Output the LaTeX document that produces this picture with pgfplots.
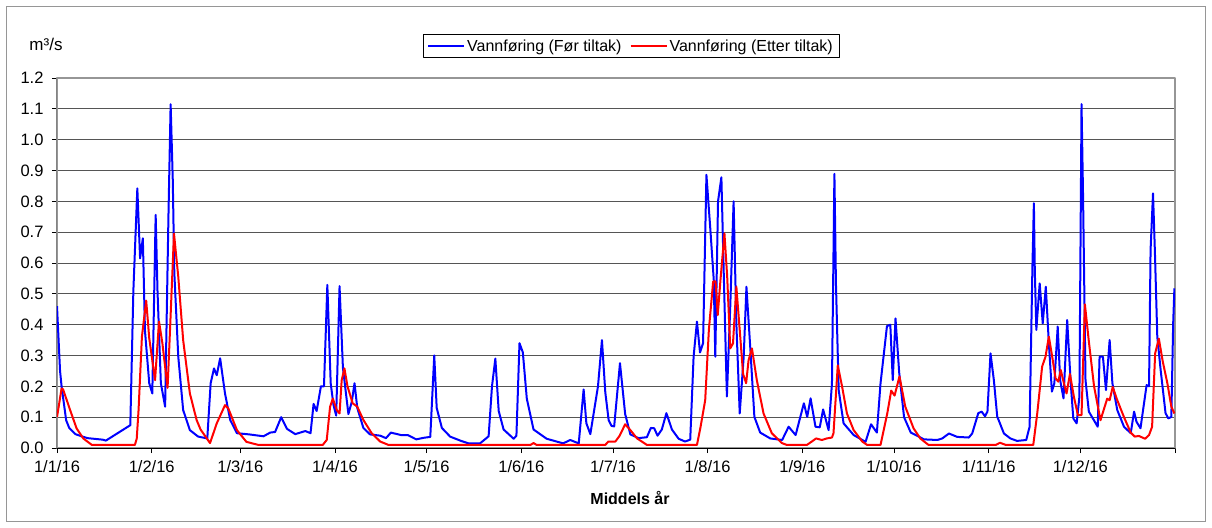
\documentclass[border=0pt]{standalone}
\usepackage{pgfplots}
\pgfplotsset{compat=1.18}
\usepackage{fontspec}
\setmainfont{Liberation Sans}
\definecolor{gridc}{RGB}{85,85,85}
\definecolor{framec}{RGB}{150,150,150}
\begin{document}
\begin{tikzpicture}[font=\fontsize{16bp}{19bp}\selectfont]
\path[use as bounding box] (-57bp,-80bp) rectangle (1155bp,448bp);
\draw[framec, line width=1bp] (-50bp,-73bp) rectangle (1148bp,441bp);
\begin{axis}[
  at={(0bp,0bp)}, anchor=south west,
  scale only axis, width=1118bp, height=370bp,
  xmin=0, xmax=366, ymin=0, ymax=1.2,
  xtick={0,31,60,91,121,152,182,213,244,274,305,335,366},
  xticklabels={1/1/16,1/2/16,1/3/16,1/4/16,1/5/16,1/6/16,1/7/16,1/8/16,1/9/16,1/10/16,1/11/16,1/12/16,},
  ytick={0,0.1,0.2,0.3,0.4,0.5,0.6,0.7,0.8,0.9,1.0,1.1,1.2},
  tick label style={font=\fontsize{16.5bp}{19bp}\selectfont},
  xticklabel style={yshift=-4bp},
  yticklabel style={xshift=-5bp, /pgf/number format/.cd, fixed, fixed zerofill, precision=1, assume math mode=true},
  tick pos=left, tick align=outside, major tick length=5bp,
  tick style={black, line width=0.8bp},
  ymajorgrids, grid style={gridc, line width=0.9bp},
  axis line style={framec, line width=1.2bp},
  legend style={at={(0.5134,1.0865)}, anchor=center, draw=black, line width=0.6bp,
    legend columns=2, font=\fontsize{16bp}{19bp}\selectfont,
    /tikz/every even column/.append style={column sep=6bp},
    inner xsep=4bp, inner ysep=3bp},
  legend image code/.code={\draw[#1] (0bp,0bp) -- (36bp,0bp);},
  line join=round,
]
\addplot[blue, line width=2bp] coordinates {
(0,0.46)(1,0.25)(1.5,0.2)(3,0.09)(4,0.065)(6,0.045)(8,0.038)(10,0.032)(12,0.03)(15,0.027)(16,0.024)
(24,0.074)(25,0.51)(26.3,0.842)(27.2,0.615)(28.1,0.68)(28.8,0.38)(30.2,0.21)(31.2,0.177)(32.3,0.756)
(32.9,0.51)(34,0.21)(35.4,0.134)(36.5,0.76)(37.2,1.115)(37.9,0.87)(38.4,0.57)(39.7,0.296)(41.3,0.123)
(43.5,0.058)(46.2,0.037)(49.2,0.031)(50.3,0.21)(51.4,0.258)(52.3,0.236)(53.4,0.291)(55,0.177)(56.7,0.091)
(58.9,0.048)(63,0.044)(67.6,0.038)(69.8,0.05)(71.4,0.052)(73.4,0.10)(75.3,0.062)(78,0.045)(81.3,0.055)
(83,0.048)(84,0.143)(85,0.12)(86.4,0.2)(87.4,0.2)(88.5,0.529)(89.6,0.21)(90.5,0.14)(91.4,0.105)
(92.5,0.525)(93.6,0.26)(95.4,0.11)(96.5,0.15)(97.4,0.21)(98.3,0.13)(100.3,0.065)(102.5,0.044)
(105.8,0.04)(107.7,0.032)(109.3,0.05)(112.6,0.042)(114.8,0.042)(117.6,0.028)(120,0.033)(122.2,0.036)
(123.5,0.30)(124.3,0.13)(126,0.065)(128.7,0.037)(132,0.024)(134.7,0.015)(138.5,0.015)(141.3,0.038)
(142.4,0.2)(143.5,0.29)(144.6,0.12)(146.2,0.06)(149.5,0.03)(150.4,0.04)(151.4,0.34)(152.5,0.31)
(153.8,0.16)(156,0.06)(160.3,0.03)(165.7,0.015)(168,0.026)(170.8,0.015)(172.4,0.19)(173.3,0.08)
(174.6,0.045)(177.1,0.2)(178.4,0.35)(179.5,0.18)(180.6,0.09)(181.5,0.072)(182.4,0.07)(184.3,0.275)
(186,0.11)(187.7,0.044)(190.4,0.032)(193.1,0.035)(194.4,0.065)(195.5,0.064)(196.6,0.04)(198,0.06)
(199.5,0.113)(201.3,0.06)(203.5,0.03)(205.6,0.021)(207.3,0.027)(208.4,0.296)(209.5,0.41)(210.5,0.31)
(211.5,0.34)(212.6,0.886)(213.9,0.707)(215,0.545)(215.5,0.296)(216.4,0.80)(217.5,0.878)(218.3,0.556)
(219.3,0.167)(220.4,0.458)(221.5,0.80)(222.4,0.404)(223.5,0.112)(224.8,0.296)(225.7,0.523)(227,0.318)
(228.3,0.101)(230.2,0.05)(233.5,0.031)(237.4,0.026)(239.5,0.069)(241.8,0.042)(244.5,0.145)(245.6,0.101)
(246.7,0.161)(248.3,0.069)(249.7,0.067)(250.8,0.125)(252.6,0.058)(253.7,0.21)(254.5,0.889)(255,0.534)
(255.9,0.188)(257.5,0.08)(260.8,0.042)(264.7,0.02)(266.5,0.077)(268.4,0.05)(269.6,0.21)(271.7,0.395)
(272.8,0.40)(273.6,0.22)(274.5,0.42)(275.7,0.245)(277.3,0.10)(279.5,0.05)(282.5,0.035)(283.8,0.028)
(288.2,0.026)(289.8,0.031)(292,0.047)(294.7,0.036)(298.5,0.034)(299.6,0.047)(301.6,0.113)(302.7,0.118)
(303.8,0.103)(304.6,0.118)(305.6,0.307)(306.7,0.22)(307.8,0.102)(310,0.047)(312.1,0.031)(314.3,0.023)
(317.3,0.026)(318.4,0.069)(319.3,0.577)(319.8,0.794)(320.1,0.577)(320.6,0.383)(321.7,0.534)(322.7,0.404)
(323.7,0.523)(324.7,0.34)(325.7,0.183)(326.5,0.21)(327.6,0.394)(328.4,0.22)(329.5,0.161)(330.7,0.415)
(331.8,0.22)(332.7,0.096)(333.8,0.08)(334.7,0.166)(335.4,1.115)(335.9,0.815)(336.7,0.22)(337.8,0.118)
(340.7,0.069)(341.3,0.296)(342.4,0.296)(343.4,0.188)(344.6,0.35)(345.5,0.21)(347.1,0.123)(349.3,0.069)
(351.5,0.048)(352.6,0.118)(353.4,0.085)(354.7,0.064)(356.7,0.204)(357.5,0.2)(358,0.642)(358.8,0.826)
(359.4,0.642)(360.2,0.361)(361.3,0.253)(362.9,0.113)(363.8,0.096)(364.8,0.101)(365.4,0.404)(365.8,0.518)
};
\addlegendentry{Vannføring (Før tiltak)}
\addplot[red, line width=2bp] coordinates {
(0,0.10)(1.5,0.193)(2,0.19)(4.3,0.123)(6.4,0.064)(8.6,0.031)(11.4,0.01)(25.5,0.01)(26.1,0.03)
(26.7,0.123)(27.8,0.361)(29.2,0.478)(30.2,0.356)(32.1,0.22)(33.4,0.41)(34.5,0.34)(36.2,0.195)(37,0.383)
(38.3,0.695)(39.7,0.556)(41.3,0.35)(43.5,0.177)(45.7,0.091)(47,0.06)(50.1,0.016)(52.3,0.08)(55,0.139)
(56.1,0.128)(58.9,0.058)(62,0.02)(65.9,0.01)(87,0.01)(88.3,0.026)(89.4,0.134)(90.3,0.16)(91.6,0.123)
(92.5,0.112)(93.2,0.22)(94.1,0.258)(95.1,0.2)(96.8,0.145)(98.3,0.134)(100.3,0.091)(103,0.048)
(105.8,0.021)(108.5,0.01)(155,0.01)(156,0.016)(157,0.01)(179.5,0.01)(180.5,0.021)(182.8,0.021)
(184.2,0.04)(186,0.077)(187.7,0.058)(189.9,0.031)(193.1,0.01)(209.5,0.01)(210.6,0.064)(212.2,0.155)
(213.4,0.383)(214.8,0.54)(215.6,0.54)(216.3,0.431)(217.2,0.545)(218.5,0.696)(219.4,0.556)(220.4,0.323)
(221.3,0.339)(222.4,0.523)(223.5,0.383)(224.6,0.24)(225.6,0.21)(226.4,0.285)(227.5,0.323)(229.1,0.22)
(231.3,0.112)(234,0.048)(237.3,0.016)(238.9,0.01)(245.5,0.01)(247.1,0.021)(248.5,0.031)(250.4,0.026)
(252,0.031)(253.7,0.034)(254.2,0.048)(255.6,0.268)(257,0.2)(258.6,0.112)(260.8,0.058)(263.6,0.021)
(265.2,0.01)(269.6,0.01)(271.8,0.112)(273.1,0.186)(274.2,0.17)(275.8,0.232)(277.7,0.134)(280.4,0.064)
(282.6,0.031)(285.3,0.01)(307.3,0.01)(308.7,0.017)(310.6,0.01)(319.6,0.01)(320.9,0.112)(322.5,0.264)
(323.6,0.296)(324.7,0.361)(325.8,0.296)(326.9,0.226)(327.8,0.215)(328.6,0.253)(329.5,0.215)(330.5,0.177)
(331.6,0.24)(332.9,0.166)(334.2,0.107)(335.4,0.107)(336.5,0.466)(337.8,0.345)(339.5,0.2)(341.6,0.09)
(343.8,0.16)(344.6,0.155)(345.6,0.198)(347.1,0.155)(349.3,0.1)(351.5,0.05)(352.8,0.037)(354.2,0.039)
(356.2,0.03)(357.5,0.042)(358.5,0.069)(359.5,0.307)(360.7,0.355)(362,0.28)(363.5,0.21)(364.8,0.134)
(365.8,0.112)
};
\addlegendentry{Vannføring (Etter tiltak)}
\draw[black, line width=1bp] (rel axis cs:0,1) -- (rel axis cs:0,0) -- (rel axis cs:1,0);
\end{axis}
\node at (-11bp,404bp) {\fontsize{17bp}{19bp}\selectfont m³/s};
\node[font=\fontsize{16bp}{19bp}\selectfont\bfseries] at (573bp,-50bp) {Middels år};
\end{tikzpicture}
\end{document}
